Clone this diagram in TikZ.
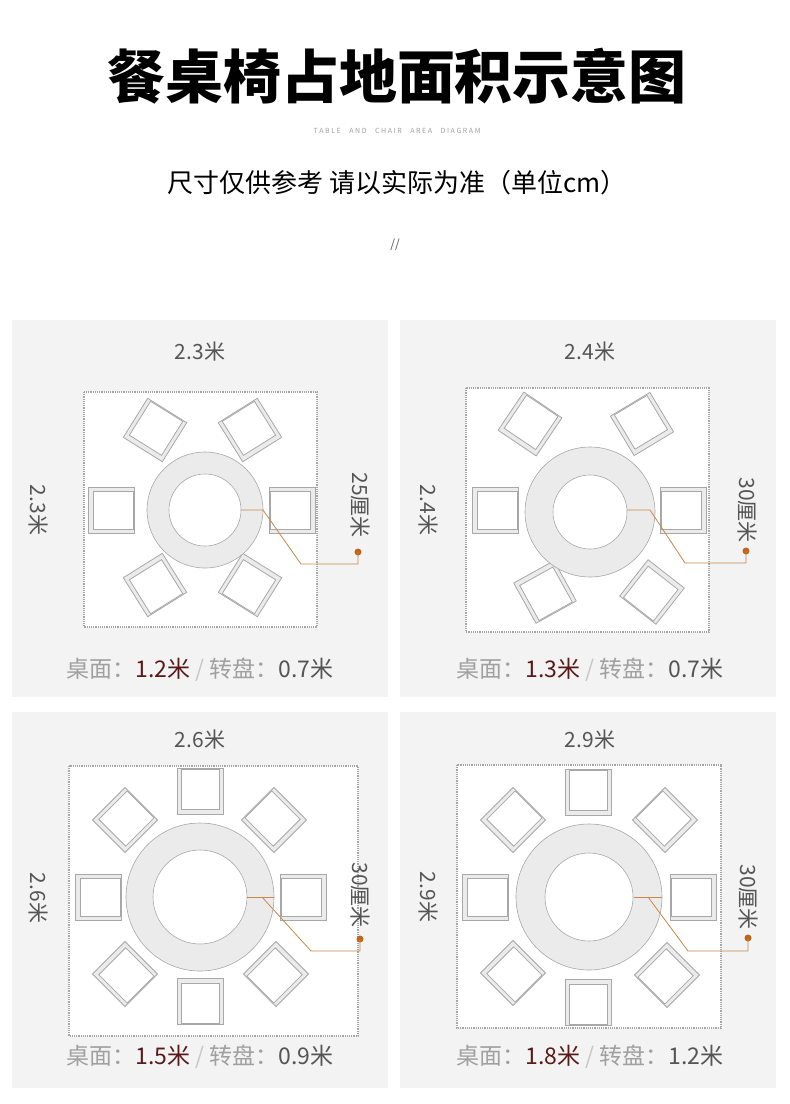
\documentclass[tikz,border=0pt]{standalone}
\usepackage{fontspec}
\setmainfont{Noto Sans CJK SC}
\usetikzlibrary{calc}
\definecolor{panelbg}{HTML}{F3F3F3}
\definecolor{linegray}{HTML}{A8A8A8}
\definecolor{ringgray}{HTML}{EBEBEB}
\definecolor{leader}{HTML}{C8884A}
\definecolor{dotcol}{HTML}{C0651A}
\definecolor{txtgray}{HTML}{555555}
\definecolor{lightgray}{HTML}{A0A0A0}
\definecolor{darkred}{HTML}{5A1A1A}
\tikzset{
  panel/.style={fill=panelbg,draw=none},
  room/.style={draw=gray!70,densely dotted,line width=1.2pt,fill=white},
  dim/.style={font=\fontsize{21}{21}\selectfont,text=txtgray},
  sidedim/.style={dim,rotate=-90},
  leaderline/.style={draw=leader,line width=0.8pt},
  caption/.style={font=\fontsize{23}{23}\selectfont}
}
% chair at (#1,#2), back turned to direction #3
\newcommand{\chair}[3]{%
  \begin{scope}[shift={(#1,#2)},rotate=#3]
    \filldraw[draw=linegray,fill=ringgray,line width=0.8pt] (-23,-23) rectangle (23,23);
    \filldraw[draw=linegray,fill=white,line width=0.8pt] (-22,-19) rectangle (18,19);
  \end{scope}}
% table at (#1,#2), outer radius #3, inner radius #4
\newcommand{\dtable}[4]{%
  \filldraw[draw=linegray,fill=ringgray,line width=0.6pt] (#1,#2) circle (#3);
  \filldraw[draw=linegray,fill=white,line width=0.6pt] (#1,#2) circle (#4);}
% caption text
\newcommand{\captext}[2]{{\color{lightgray}桌面：}{\color{darkred}#1米} {\color{lightgray!60}/} {\color{lightgray}转盘：}{\color{txtgray}#2米}}
\begin{document}
\begin{tikzpicture}[x=1pt,y=-1pt]
\useasboundingbox[fill=white] (0,0) rectangle (790,1104);

\node (title) at (397,76) {\fontsize{58}{58}\selectfont\bfseries 餐桌椅占地面积示意图};
\node[text=lightgray] (subtitle) at (397,131) {\fontsize{7}{7}\selectfont T\ A\ B\ L\ E\quad\ A\ N\ D\quad\ C\ H\ A\ I\ R\quad\ A\ R\ E\ A\quad\ D\ I\ A\ G\ R\ A\ M};
\node (note) at (397,183) {\fontsize{26}{26}\selectfont 尺寸仅供参考\ 请以实际为准（单位cm）};
\node[text=txtgray] (slash) at (395,245) {\fontsize{12}{12}\selectfont //};

% panel 1
\fill[panel] (12,320) rectangle (388,697);
\draw[room] (84,392) rectangle (317,627);
\chair{111}{510}{180}
\chair{292}{510}{0}
\chair{155}{430}{-122}
\chair{250}{430}{-58}
\chair{155}{585}{122}
\chair{250}{585}{58}
\dtable{205}{510}{58}{36}
\node[dim] (w1) at (200,352) {2.3米};
\node[sidedim] (h1) at (38,510) {2.3米};
\node[sidedim] (r1) at (360,505) {25厘米};
\coordinate (a1) at (241,510);
\coordinate (b1) at (263,510);
\coordinate (c1) at (301,564);
\coordinate (d1) at (358,564);
\fill[dotcol] (358,552) circle (3.5) coordinate (e1);
\draw[leaderline] (a1) -- (b1) -- (c1) -- (d1) -- (e1);
\node[caption] (cap1) at (200,670) {\captext{1.2}{0.7}};

% panel 2
\fill[panel] (400,320) rectangle (776,697);
\draw[room] (466,388) rectangle (709,632);
\chair{495}{510}{180}
\chair{683}{510}{0}
\chair{530}{424}{-124}
\chair{642}{424}{-59}
\chair{545}{592}{119}
\chair{652}{592}{52}
\dtable{590}{512}{65}{37}
\node[dim] (w2) at (590,352) {2.4米};
\node[sidedim] (h2) at (428,510) {2.4米};
\node[sidedim] (r2) at (747,510) {30厘米};
\coordinate (a2) at (627,510);
\coordinate (b2) at (650,510);
\coordinate (c2) at (685,563);
\coordinate (d2) at (746,563);
\fill[dotcol] (746,551) circle (3.5) coordinate (e2);
\draw[leaderline] (a2) -- (b2) -- (c2) -- (d2) -- (e2);
\node[caption] (cap2) at (590,670) {\captext{1.3}{0.7}};

% panel 3
\fill[panel] (12,712) rectangle (388,1088);
\draw[room] (69,766) rectangle (358,1036);
\chair{200}{791}{-90}
\chair{200}{1001}{90}
\chair{98}{897}{180}
\chair{303}{897}{0}
\chair{125}{820}{-135}
\chair{274}{820}{-45}
\chair{125}{974}{135}
\chair{276}{974}{45}
\dtable{200}{897}{74}{47}
\node[dim] (w3) at (200,740) {2.6米};
\node[sidedim] (h3) at (38,898) {2.6米};
\node[sidedim] (r3) at (360,895) {30厘米};
\coordinate (a3) at (247,897);
\coordinate (b3) at (274,897);
\coordinate (c3) at (311,951);
\coordinate (d3) at (360,951);
\fill[dotcol] (360,939) circle (3.5) coordinate (e3);
\draw[leaderline] (a3) -- (b3);
\draw[leaderline] (262,897) -- (c3) -- (d3) -- (e3);
\node[caption] (cap3) at (200,1057) {\captext{1.5}{0.9}};

% panel 4
\fill[panel] (400,712) rectangle (776,1088);
\draw[room] (457,765) rectangle (721,1028);
\chair{588}{792}{-90}
\chair{588}{1002}{90}
\chair{485}{897}{180}
\chair{693}{897}{0}
\chair{513}{820}{-135}
\chair{665}{820}{-45}
\chair{513}{973}{135}
\chair{667}{975}{45}
\dtable{589}{897}{73}{44}
\node[dim] (w4) at (590,740) {2.9米};
\node[sidedim] (h4) at (428,897) {2.9米};
\node[sidedim] (r4) at (748,897) {30厘米};
\coordinate (a4) at (634,897);
\coordinate (b4) at (662,897);
\coordinate (c4) at (688,951);
\coordinate (d4) at (748,951);
\fill[dotcol] (748,938) circle (3.5) coordinate (e4);
\draw[leaderline] (a4) -- (b4);
\draw[leaderline] (648,897) -- (c4) -- (d4) -- (e4);
\node[caption] (cap4) at (590,1057) {\captext{1.8}{1.2}};
\end{tikzpicture}
\end{document}
